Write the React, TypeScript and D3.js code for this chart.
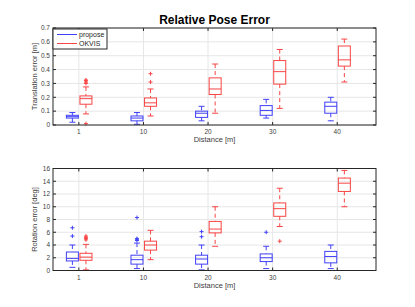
import * as d3 from "d3";

// distances along the x axis
const distances = ["1", "10", "20", "30", "40"];
const methods = ["propose", "OKVIS"];
const methodColors = ["#4040f8", "#f84545"];

// [lo whisker, q1, median, q3, hi whisker] per distance
const transPropose = [
  [0.02, 0.05, 0.06, 0.07, 0.09],
  [0.005, 0.03, 0.05, 0.065, 0.09],
  [0.03, 0.055, 0.085, 0.1, 0.135],
  [0.05, 0.07, 0.105, 0.14, 0.185],
  [0.03, 0.085, 0.135, 0.165, 0.2],
];
const transOkvis = [
  [0.08, 0.15, 0.19, 0.21, 0.275],
  [0.065, 0.135, 0.16, 0.195, 0.26],
  [0.085, 0.22, 0.26, 0.34, 0.44],
  [0.12, 0.295, 0.385, 0.465, 0.545],
  [0.31, 0.425, 0.47, 0.57, 0.62],
];
const transProposeOut = [[], [], [], [], []];
const transOkvisOut = [[0.01, 0.3, 0.31, 0.32, 0.325], [0.31, 0.37], [], [], []];

const rotPropose = [
  [0.5, 1.5, 1.9, 2.9, 4.0],
  [0.3, 1.0, 1.7, 2.4, 4.3],
  [0.1, 1.0, 1.8, 2.4, 4.0],
  [0.3, 1.4, 2.0, 2.6, 3.8],
  [0.3, 1.2, 2.2, 3.0, 4.0],
];
const rotOkvis = [
  [0.1, 1.6, 2.1, 2.7, 4.1],
  [1.7, 3.2, 4.0, 4.6, 6.3],
  [3.8, 5.9, 6.5, 7.7, 10.0],
  [6.9, 8.5, 9.7, 10.6, 12.9],
  [10.0, 12.4, 13.7, 14.5, 15.7],
];
const rotProposeOut = [[5.4, 6.7], [4.7, 4.9, 5.0, 8.3], [5.3, 6.1], [6.0], []];
const rotOkvisOut = [[4.8, 5.0, 5.2, 5.4], [], [], [4.6], []];

const transTicks = [0, 0.1, 0.2, 0.3, 0.4, 0.5, 0.6, 0.7];
const rotTicks = [0, 2, 4, 6, 8, 10, 12, 14, 16];

const W = 415;
const H = 307;
const left = 53;
const right = 376;

type PanelProps = {
  top: number;
  bottom: number;
  ticks: number[];
  yMax: number;
  yLabel: string;
  stats: number[][][];
  outliers: number[][][];
  legend?: boolean;
};

const Panel = ({ top, bottom, ticks, yMax, yLabel, stats, outliers, legend }: PanelProps) => {
  const x = d3.scaleLinear().domain([0.6, 5.6]).range([left, right]);
  const y = d3.scaleLinear().domain([0, yMax]).range([bottom, top]);
  const boxW = 12;
  const offsets = [-0.1, 0.11];
  const tickLen = 3;

  return (
    <g>
      {/* grid */}
      {ticks.map((t) => (
        <line key={"gy" + t} x1={left} x2={right} y1={y(t)} y2={y(t)} stroke="#e6e6e6" strokeWidth={1} />
      ))}
      {distances.map((d, i) => (
        <line key={"gx" + d} x1={x(i + 1)} x2={x(i + 1)} y1={top} y2={bottom} stroke="#e6e6e6" strokeWidth={1} />
      ))}

      {/* boxes */}
      {stats.map((series, si) =>
        series.map((s, i) => {
          const cx = x(i + 1 + offsets[si]);
          const c = methodColors[si];
          const [lo, q1, med, q3, hi] = s;
          return (
            <g key={si + "-" + i} stroke={c} fill="none" strokeWidth={1}>
              <line x1={cx} x2={cx} y1={y(hi)} y2={y(q3)} strokeDasharray="4,3" />
              <line x1={cx} x2={cx} y1={y(q1)} y2={y(lo)} strokeDasharray="4,3" />
              <line x1={cx - boxW / 4} x2={cx + boxW / 4} y1={y(hi)} y2={y(hi)} />
              <line x1={cx - boxW / 4} x2={cx + boxW / 4} y1={y(lo)} y2={y(lo)} />
              <rect x={cx - boxW / 2} y={y(q3)} width={boxW} height={y(q1) - y(q3)} />
              <line x1={cx - boxW / 2} x2={cx + boxW / 2} y1={y(med)} y2={y(med)} />
              {outliers[si][i].map((o, k) => (
                <g key={k}>
                  <line x1={cx - 2} x2={cx + 2} y1={y(o)} y2={y(o)} />
                  <line x1={cx} x2={cx} y1={y(o) - 2} y2={y(o) + 2} />
                </g>
              ))}
            </g>
          );
        })
      )}

      {/* axes box */}
      <rect x={left} y={top} width={right - left} height={bottom - top} fill="none" stroke="#262626" strokeWidth={1} />
      {ticks.map((t) => (
        <g key={"ty" + t} stroke="#262626">
          <line x1={left} x2={left + tickLen} y1={y(t)} y2={y(t)} />
          <line x1={right} x2={right - tickLen} y1={y(t)} y2={y(t)} />
        </g>
      ))}
      {distances.map((d, i) => (
        <g key={"tx" + d} stroke="#262626">
          <line x1={x(i + 1)} x2={x(i + 1)} y1={bottom} y2={bottom - tickLen} />
          <line x1={x(i + 1)} x2={x(i + 1)} y1={top} y2={top + tickLen} />
        </g>
      ))}
      {ticks.map((t) => (
        <text key={"ly" + t} x={left - 3} y={y(t)} dy="0.35em" textAnchor="end" fontSize={6.5} fill="#404040">
          {t}
        </text>
      ))}
      {distances.map((d, i) => (
        <text key={"lx" + d} x={x(i + 1)} y={bottom + 9} textAnchor="middle" fontSize={6.5} fill="#404040">
          {d}
        </text>
      ))}
      <text x={(left + right) / 2} y={bottom + 17} textAnchor="middle" fontSize={7.5} fill="#404040">
        Distance [m]
      </text>
      <text
        transform={`translate(${37}, ${(top + bottom) / 2}) rotate(-90)`}
        textAnchor="middle"
        fontSize={7.5}
        fill="#404040"
      >
        {yLabel}
      </text>

      {legend && (
        <g>
          <rect x={left} y={top + 1} width={54} height={20} fill="#fff" stroke="#262626" strokeWidth={1} />
          {methods.map((m, i) => (
            <g key={m}>
              <line x1={left + 4} x2={left + 24} y1={top + 6.5 + i * 9} y2={top + 6.5 + i * 9} stroke={methodColors[i]} strokeWidth={1} />
              <text x={left + 26} y={top + 6.5 + i * 9} dy="0.35em" fontSize={7} fill="#262626">
                {m}
              </text>
            </g>
          ))}
        </g>
      )}
    </g>
  );
};

export default function App() {
  return (
    <svg
      width={W}
      height={H}
      style={{ position: "absolute", left: 0, top: 0, fontFamily: "Liberation Sans, Arial, sans-serif" }}
    >
      <rect width={W} height={H} fill="#fff" />
      <text x={(left + right) / 2} y={24} textAnchor="middle" fontSize={12} fontWeight="bold" fill="#000">
        Relative Pose Error
      </text>
      <Panel
        top={28}
        bottom={125}
        ticks={transTicks}
        yMax={0.7}
        yLabel="Translation error [m]"
        stats={[transPropose, transOkvis]}
        outliers={[transProposeOut, transOkvisOut]}
        legend
      />
      <Panel
        top={168.5}
        bottom={270.5}
        ticks={rotTicks}
        yMax={16}
        yLabel="Rotation error [deg]"
        stats={[rotPropose, rotOkvis]}
        outliers={[rotProposeOut, rotOkvisOut]}
      />
    </svg>
  );
}
